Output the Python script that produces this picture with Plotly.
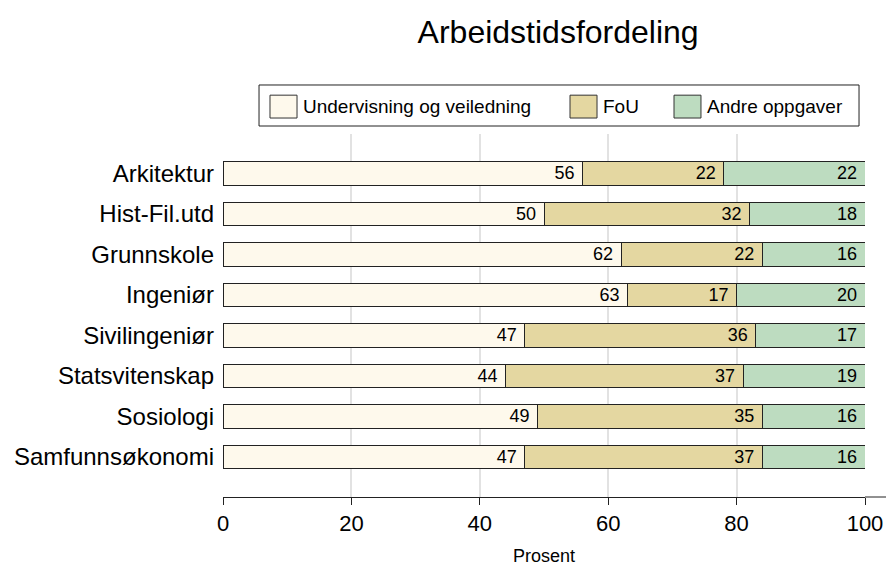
import plotly.graph_objects as go

# data, top to bottom as shown
fag = ["Arkitektur", "Hist-Fil.utd", "Grunnskole", "Ingeniør",
       "Sivilingeniør", "Statsvitenskap", "Sosiologi", "Samfunnsøkonomi"]
undervisning = [56, 50, 62, 63, 47, 44, 49, 47]
fou = [22, 32, 22, 17, 36, 37, 35, 37]
andre = [22, 18, 16, 20, 17, 19, 16, 16]

serier = [
    ("Undervisning og veiledning", undervisning, "#FEF9EC"),
    ("FoU", fou, "#E4D7A1"),
    ("Andre oppgaver", andre, "#BDDCC0"),
]

FONT = "Liberation Sans, Arial, sans-serif"

fig = go.Figure()
for navn, verdier, farge in serier:
    fig.add_trace(go.Bar(
        y=fag, x=verdier, name=navn, orientation="h",
        marker=dict(color=farge, line=dict(color="#222222", width=1)),
        text=[str(v) + "\u00a0" for v in verdier],
        textposition="inside", insidetextanchor="end",
        textfont=dict(size=18, color="black"),
        width=0.58, showlegend=False,
    ))

# legend drawn by hand so the swatches and spacing match
legend_x = [(0.0732, 0.1153), (0.5405, 0.5826), (0.7025, 0.7445)]
fig.add_shape(type="rect", xref="paper", yref="paper",
              x0=0.0561, x1=0.9907, y0=1.022, y1=1.135,
              line=dict(color="#222222", width=1), fillcolor="white")
for (navn, _, farge), (x0, x1) in zip(serier, legend_x):
    fig.add_shape(type="rect", xref="paper", yref="paper",
                  x0=x0, x1=x1, y0=1.044, y1=1.107,
                  line=dict(color="#333333", width=1), fillcolor=farge)
    fig.add_annotation(text=navn, xref="paper", yref="paper",
                       x=x1 + 0.006, y=1.077, xanchor="left", yanchor="middle",
                       showarrow=False, font=dict(size=19))

# axis line runs on past 100 to the edge
fig.add_shape(type="line", xref="paper", yref="paper",
              x0=1, x1=1.05, y0=0, y1=0,
              line=dict(color="#222222", width=1))

fig.add_annotation(text="Prosent", xref="paper", yref="paper",
                   x=0.5, y=-0.163, xanchor="center", yanchor="middle",
                   showarrow=False, font=dict(size=18))

fig.update_layout(
    barmode="stack",
    width=886, height=557,
    margin=dict(l=215, r=29, t=126, b=68),
    plot_bgcolor="white", paper_bgcolor="white",
    font=dict(family=FONT, color="black"),
    uniformtext=dict(minsize=18, mode="show"),
    title=dict(text="Arbeidstidsfordeling", xref="paper", x=0.522, xanchor="center",
               y=0.957, yanchor="middle", font=dict(size=32)),
    xaxis=dict(range=[0, 100], tickvals=[0, 20, 40, 60, 80, 100],
               showgrid=True, gridcolor="#E2E2E2", gridwidth=2,
               showline=True, linecolor="#222222", linewidth=1,
               ticks="outside", ticklen=7, tickcolor="#222222",
               tickfont=dict(size=22), zeroline=False, automargin=False),
    yaxis=dict(categoryorder="array", categoryarray=fag[::-1],
               range=[-0.99, 7.97], showgrid=False, showline=False,
               ticks="", tickfont=dict(size=24), ticklabelstandoff=8,
               automargin=False),
)

fig.write_html("out.html")
